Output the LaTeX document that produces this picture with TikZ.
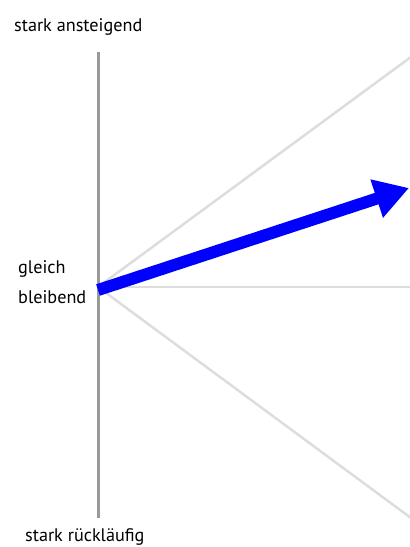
\documentclass[tikz,border=0pt]{standalone}
\usepackage{fontspec}
\setmainfont{PT Sans}
\usetikzlibrary{arrows.meta}
\definecolor{axisgray}{HTML}{999999}
\definecolor{raygray}{HTML}{DDDDDD}
\definecolor{arrowblue}{HTML}{0000FF}
\tikzset{
  lbl/.style={font=\fontsize{18.2}{30}\selectfont, inner sep=0pt, anchor=base west},
  axis/.style={draw=axisgray, line width=3pt},
  ray/.style={draw=raygray, line width=2.5pt},
  trend/.style={draw=arrowblue, line width=12pt, -{Triangle[length=34pt, width=38pt]}}
}
\begin{document}
\begin{tikzpicture}[x=1pt,y=-1pt]
\useasboundingbox (0,0) rectangle (410,547);
\coordinate (top) at (98,52);
\coordinate (bot) at (98,518);
\coordinate (o) at (98,287);
\coordinate (up) at (430,43);
\coordinate (mid) at (430,287);
\coordinate (down) at (430,532);
\coordinate (ostart) at (98,290);
\coordinate (tip) at (409,188);
\begin{scope}
\clip (0,0) rectangle (410,547);
\draw[ray] (o) -- (up);
\draw[ray] (o) -- (mid);
\draw[ray] (o) -- (down);
\end{scope}
\draw[axis] (top) -- (bot);
\draw[trend] (ostart) -- (tip);
\node[lbl] (t1) at (14,31) {stark ansteigend};
\node[lbl] (t2a) at (18,273) {gleich};
\node[lbl] (t2b) at (18,303) {bleibend};
\node[lbl] (t3) at (25,541) {stark rückläufig};
\end{tikzpicture}
\end{document}
